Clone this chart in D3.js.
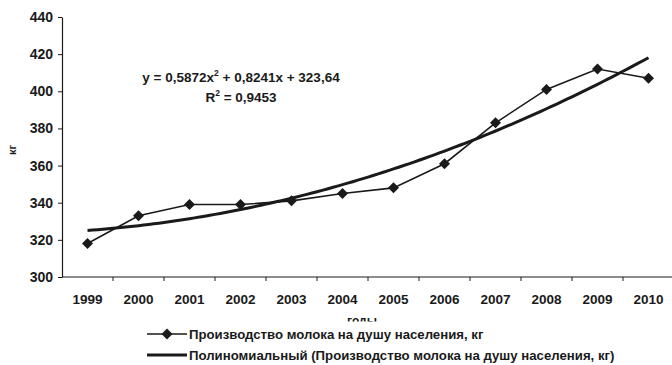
<!DOCTYPE html>
<html>
<head>
<meta charset="utf-8">
<script src="https://cdn.jsdelivr.net/npm/d3@7/dist/d3.min.js"></script>
<style>
  html, body { margin: 0; padding: 0; background: #fff; }
  svg { display: block; font-family: "Liberation Sans", Arial, sans-serif; }
</style>
</head>
<body>
<svg id="chart" width="672" height="365"></svg>
<script>
// Milk production per capita, kg
const years = ["1999","2000","2001","2002","2003","2004","2005","2006","2007","2008","2009","2010"];
const milkPerCapita = [318, 333, 339, 339, 341, 345, 348, 361, 383, 401, 412, 407];
const yTicks = [300, 320, 340, 360, 380, 400, 420, 440];
// Polynomial trend y = a*x^2 + b*x + c, x = 1..12
const trendCoef = [0.5872, 0.8241, 323.64];
const equationText = ["y = 0,5872x", "2", " + 0,8241x + 323,64"];
const r2Text = ["R", "2", " = 0,9453"];
const legendLabels = [
  "Производство молока на душу населения, кг",
  "Полиномиальный (Производство молока на душу населения, кг)"
];

const svg = d3.select("#chart");
const ink = "#1a1a1a";

const x = d3.scaleBand().domain(years).range([62, 674]);
const y = d3.scaleLinear().domain([300, 440]).range([277, 17]);

// y axis
const yAxis = d3.axisLeft(y).tickValues(yTicks).tickSize(4).tickSizeOuter(0);
const gy = svg.append("g").attr("transform", `translate(${x.range()[0]},0)`).call(yAxis);
gy.select(".domain").attr("stroke", ink).attr("stroke-width", 1.2);
gy.selectAll(".tick line").attr("stroke", ink);
gy.selectAll(".tick text").attr("fill", ink).attr("font-size", 14).attr("font-weight", "bold").attr("x", -9);

// x axis with ticks between categories
const gx = svg.append("g").attr("transform", `translate(0,${y(300)})`);
gx.append("line").attr("x1", x.range()[0]).attr("x2", x.range()[1])
  .attr("stroke", ink).attr("stroke-width", 1.2);
gx.selectAll("line.tk").data(years.slice(1)).join("line").attr("class", "tk")
  .attr("x1", d => x(d)).attr("x2", d => x(d)).attr("y1", 0).attr("y2", 4)
  .attr("stroke", ink);
gx.selectAll("text").data(years).join("text")
  .attr("x", d => x(d) + x.bandwidth() / 2).attr("y", 27)
  .attr("text-anchor", "middle").attr("font-size", 13.5).attr("font-weight", "bold")
  .attr("fill", ink).text(d => d);

// axis titles
svg.append("text").attr("transform", "translate(16,150) rotate(-90)")
  .attr("text-anchor", "middle").attr("font-size", 11).attr("font-weight", "bold")
  .attr("fill", ink).text("кг");
// x title, lower half hidden behind the legend
svg.append("clipPath").attr("id", "xtitleClip")
  .append("rect").attr("x", 300).attr("y", 300).attr("width", 120).attr("height", 21.5);
svg.append("text").attr("x", 362).attr("y", 324.5).attr("clip-path", "url(#xtitleClip)")
  .attr("text-anchor", "middle").attr("font-size", 12).attr("font-weight", "bold")
  .attr("fill", ink).text("годы");

const cx = d => x(d) + x.bandwidth() / 2;

// polynomial trend
const trendPts = d3.range(1, 12.001, 0.1).map(t => {
  const v = trendCoef[0] * t * t + trendCoef[1] * t + trendCoef[2];
  const px = cx(years[0]) + (t - 1) * x.step();
  return [px, y(v)];
});
svg.append("path").datum(trendPts)
  .attr("d", d3.line())
  .attr("fill", "none").attr("stroke", ink).attr("stroke-width", 3);

// data line + square diamonds
const data = years.map((yr, i) => ({ yr, v: milkPerCapita[i] }));
svg.append("path").datum(data)
  .attr("d", d3.line().x(d => cx(d.yr)).y(d => y(d.v)))
  .attr("fill", "none").attr("stroke", ink).attr("stroke-width", 1.6);
const r = 5.5;
const diamond = `M0,${-r}L${r},0L0,${r}L${-r},0Z`;
svg.selectAll("path.pt").data(data).join("path").attr("class", "pt")
  .attr("transform", d => `translate(${cx(d.yr)},${y(d.v)})`)
  .attr("d", diamond).attr("fill", ink);

// trend equation
function supText(xc, yc, parts) {
  const t = svg.append("text").attr("x", xc).attr("y", yc).attr("text-anchor", "middle")
    .attr("font-size", 13.5).attr("font-weight", "bold").attr("fill", ink);
  t.append("tspan").text(parts[0]);
  t.append("tspan").attr("dy", -6).attr("font-size", 8.5).text(parts[1]);
  t.append("tspan").attr("dy", 6).text(parts[2]);
}
supText(241, 82, equationText);
supText(241, 102, r2Text);

// legend
const lg = svg.append("g");
const rows = [334, 355];
lg.append("line").attr("x1", 147).attr("x2", 187).attr("y1", rows[0]).attr("y2", rows[0])
  .attr("stroke", ink).attr("stroke-width", 1.6);
lg.append("path").attr("transform", `translate(167,${rows[0]})`).attr("d", diamond).attr("fill", ink);
lg.append("line").attr("x1", 147).attr("x2", 187).attr("y1", rows[1]).attr("y2", rows[1])
  .attr("stroke", ink).attr("stroke-width", 3);
lg.selectAll("text").data(legendLabels).join("text")
  .attr("x", 189).attr("y", (d, i) => rows[i] + 4.5)
  .attr("font-size", 13.2).attr("font-weight", "bold").attr("fill", ink).text(d => d);
</script>
</body>
</html>
